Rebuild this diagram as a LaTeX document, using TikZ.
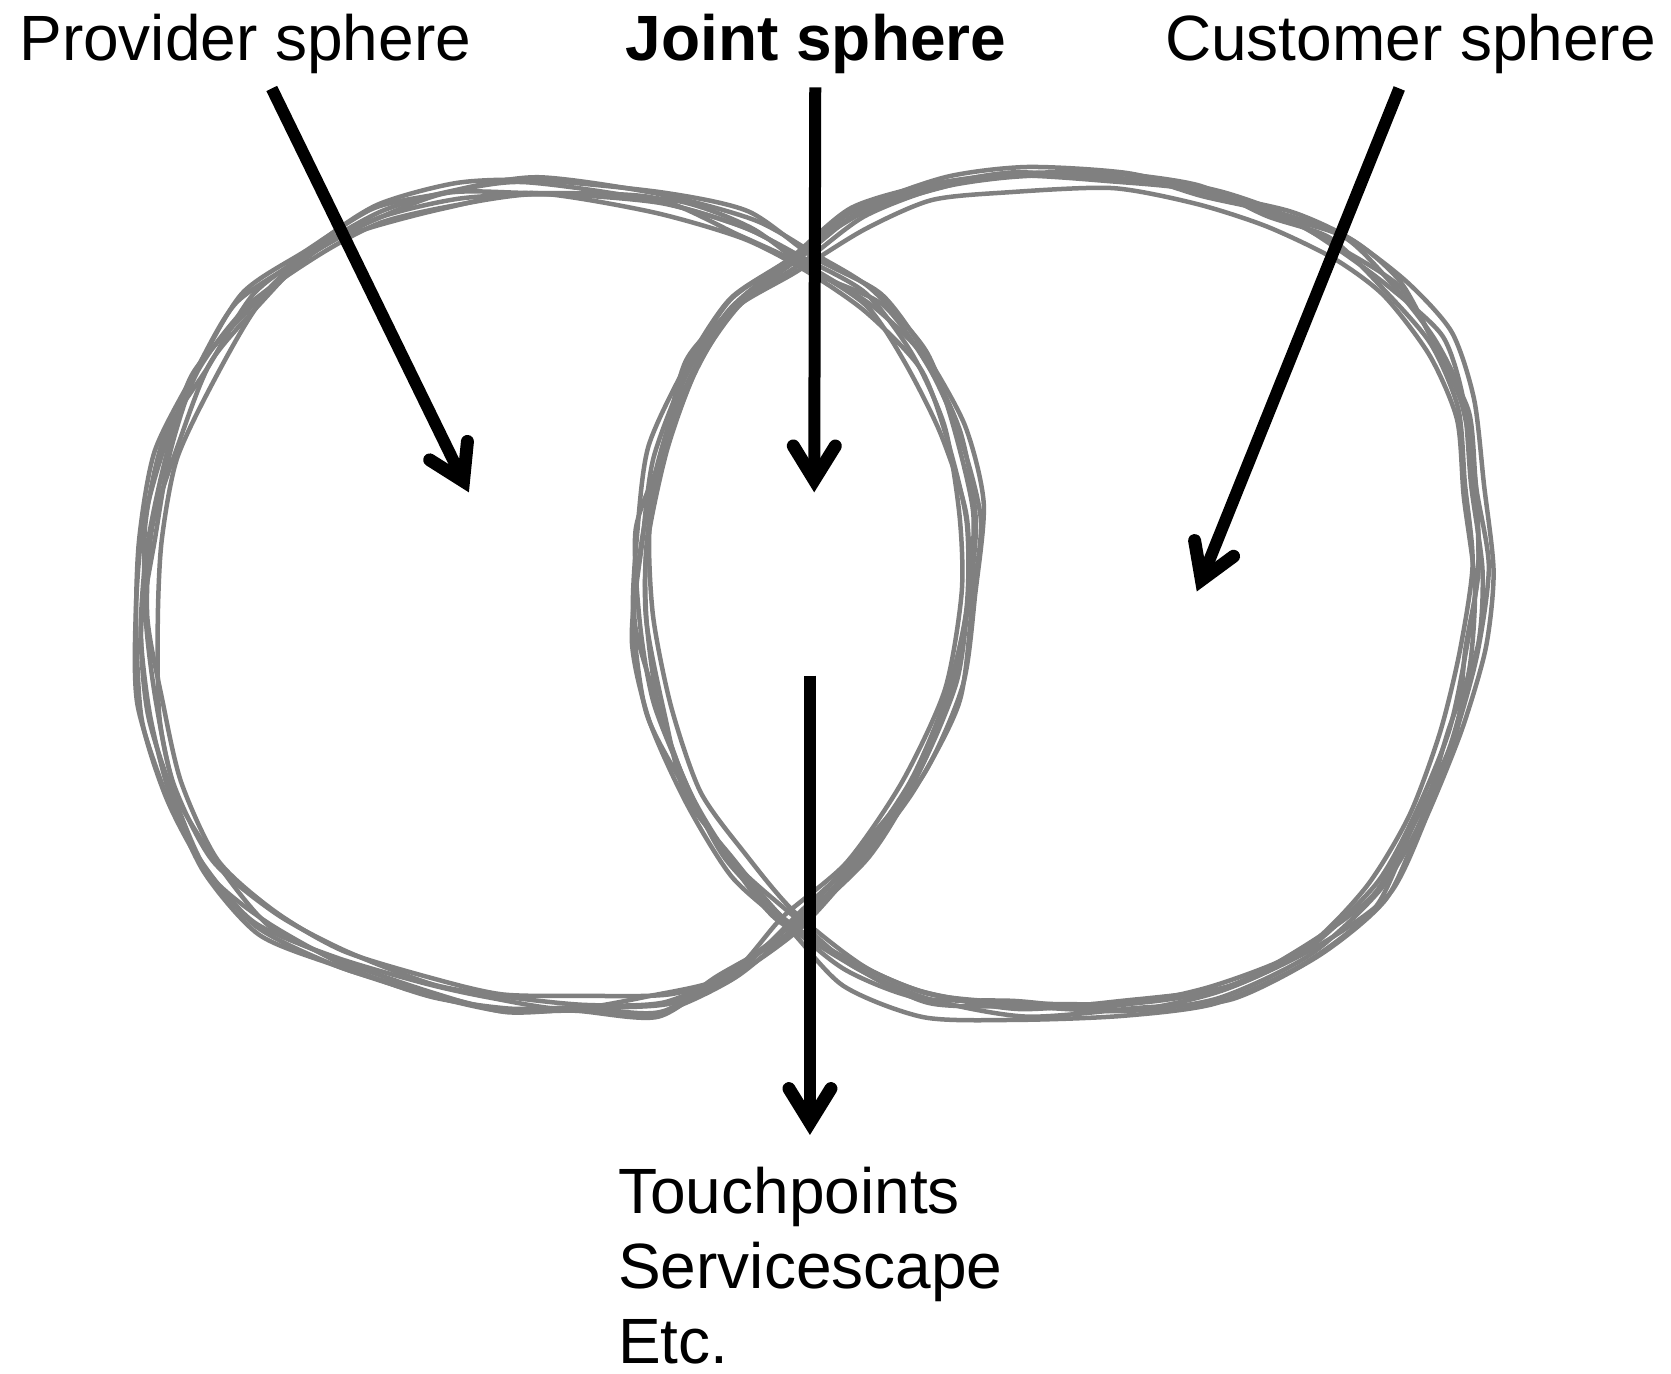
\documentclass[tikz,border=0pt]{standalone}
\usepackage{fontspec}
\setmainfont{Liberation Sans}
\usetikzlibrary{arrows.meta}
\definecolor{loopgray}{RGB}{128,128,128}
\newcommand\sketchloop[1]{%
  \pgfmathsetmacro\lpdx{9*rand}%
  \pgfmathsetmacro\lpdy{9*rand}%
  \gdef\lpcrds{}%
  \foreach \p/\q in {#1}{%
    \pgfmathsetmacro\lpx{\p+\lpdx+6*rand}%
    \pgfmathsetmacro\lpy{\q+\lpdy+6*rand}%
    \xdef\lpcrds{\lpcrds (\lpx,\lpy)}%
  }%
  \edef\lpcmd{\noexpand\draw[sketch] plot[smooth cycle, tension=0.45] coordinates {\lpcrds};}%
  \lpcmd
}
\begin{document}
\begin{tikzpicture}[x=1.0657pt,y=-1.0657pt,
  lbl/.style={anchor=base west, inner sep=0pt, font=\fontsize{64}{75}\selectfont},
  bigarrow/.style={line width=12pt, -{Straight Barb[length=34pt,width=42pt,line width=13pt,line cap=round,line join=miter]}},
  sketch/.style={draw=loopgray, line width=4.5pt, line join=round}]
\useasboundingbox (0,0) rectangle (1568,1289);
\pgfmathsetseed{4242}
% left loop (provider)
\foreach \k in {1,...,7}{
  \sketchloop{500/176, 620/186, 700/210, 760/245, 815/280, 862/335, 895/400, 910/480, 910/560, 892/650, 855/735, 805/805, 745/865, 685/912, 620/940, 540/945, 470/942, 400/925, 320/902, 250/865, 195/810, 160/745, 140/665, 135/580, 138/500, 155/420, 188/345, 235/282, 292/232, 352/200, 420/182}
}
% right loop (customer)
\foreach \k in {1,...,7}{
  \sketchloop{950/168, 1050/172, 1130/185, 1200/207, 1262/232, 1310/272, 1350/325, 1375/385, 1386/460, 1388/540, 1383/615, 1366/695, 1336/772, 1292/842, 1232/896, 1150/935, 1060/950, 960/952, 870/942, 800/912, 740/868, 690/812, 650/748, 620/672, 603/590, 605/510, 622/430, 650/350, 692/290, 748/245, 812/205, 880/180}
}
% labels
\node[lbl] (prov) at (18,57) {Provider sphere};
\node[lbl, font=\fontsize{64}{75}\selectfont\bfseries] (joint) at (587,57) {Joint sphere};
\node[lbl] (cust) at (1093,57) {Customer sphere};
\node[lbl] (tp1) at (580,1139) {Touchpoints};
\node[lbl] (tp2) at (580,1209) {Servicescape};
\node[lbl] (tp3) at (580,1279) {Etc.};
% arrow end points
\coordinate (provS) at (255,83);
\coordinate (provE) at (440,462);
\coordinate (jointS) at (765,82);
\coordinate (jointE) at (764,462);
\coordinate (custS) at (1313,83);
\coordinate (custE) at (1123,555);
\coordinate (tpS) at (760,634);
\coordinate (tpE) at (760,1065);
\draw[bigarrow] (provS) -- (provE);
\draw[bigarrow] (jointS) -- (jointE);
\draw[bigarrow] (custS) -- (custE);
\draw[bigarrow] (tpS) -- (tpE);
\end{tikzpicture}
\end{document}
